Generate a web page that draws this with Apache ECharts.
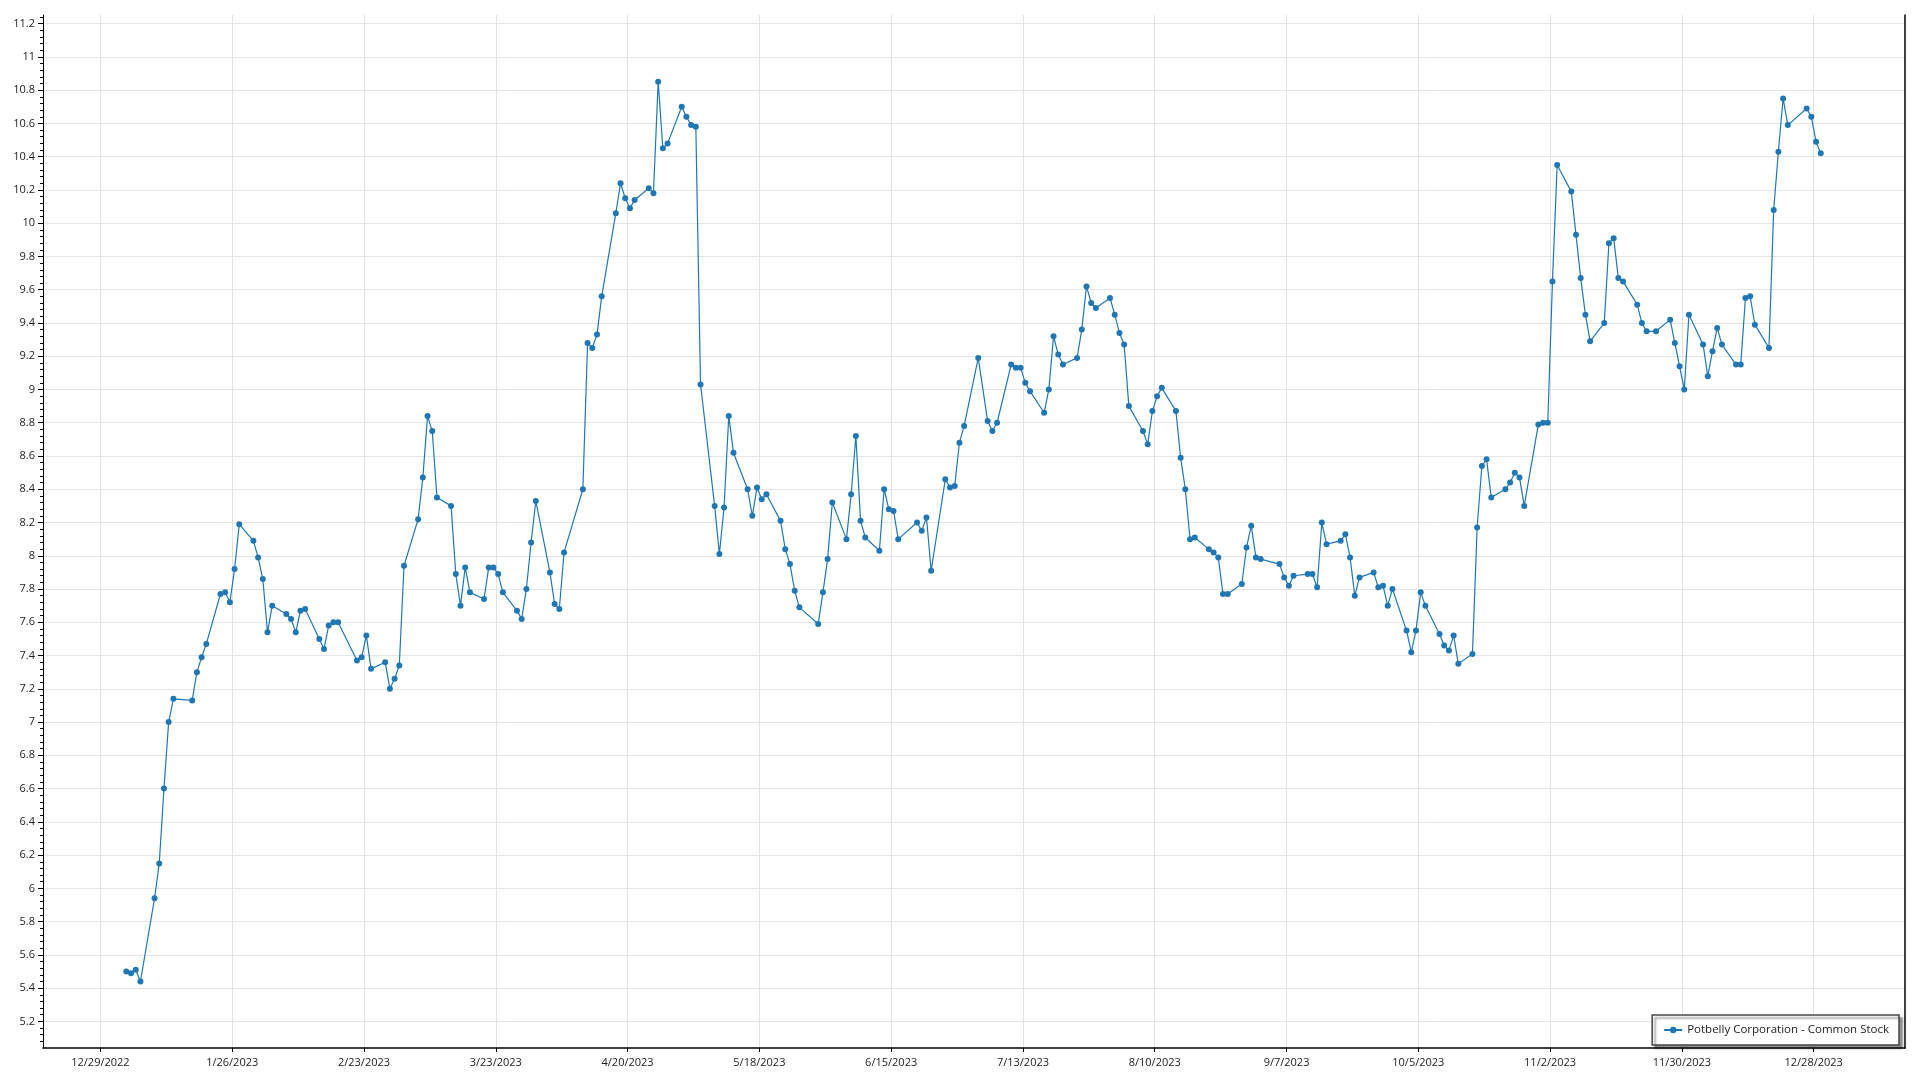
<!DOCTYPE html>
<html>
<head>
<meta charset="utf-8">
<script src="https://cdn.jsdelivr.net/npm/echarts@6/dist/echarts.min.js"></script>
<style>
html,body{margin:0;padding:0;background:#ffffff;}
#chart{width:1920px;height:1080px;}
</style>
</head>
<body>
<div id="chart"></div>
<script>
const seriesName = 'Potbelly Corporation - Common Stock';

const tradeDates = [
'2023-01-03','2023-01-04','2023-01-05','2023-01-06','2023-01-09','2023-01-10','2023-01-11','2023-01-12','2023-01-13',
'2023-01-17','2023-01-18','2023-01-19','2023-01-20','2023-01-23','2023-01-24','2023-01-25','2023-01-26','2023-01-27',
'2023-01-30','2023-01-31','2023-02-01','2023-02-02','2023-02-03','2023-02-06','2023-02-07','2023-02-08','2023-02-09','2023-02-10',
'2023-02-13','2023-02-14','2023-02-15','2023-02-16','2023-02-17','2023-02-21','2023-02-22','2023-02-23','2023-02-24',
'2023-02-27','2023-02-28','2023-03-01','2023-03-02','2023-03-03','2023-03-06','2023-03-07','2023-03-08','2023-03-09','2023-03-10',
'2023-03-13','2023-03-14','2023-03-15','2023-03-16','2023-03-17','2023-03-20','2023-03-21','2023-03-22','2023-03-23','2023-03-24',
'2023-03-27','2023-03-28','2023-03-29','2023-03-30','2023-03-31','2023-04-03','2023-04-04','2023-04-05','2023-04-06',
'2023-04-10','2023-04-11','2023-04-12','2023-04-13','2023-04-14','2023-04-17','2023-04-18','2023-04-19','2023-04-20','2023-04-21',
'2023-04-24','2023-04-25','2023-04-26','2023-04-27','2023-04-28','2023-05-01','2023-05-02','2023-05-03','2023-05-04','2023-05-05',
'2023-05-08','2023-05-09','2023-05-10','2023-05-11','2023-05-12','2023-05-15','2023-05-16','2023-05-17','2023-05-18','2023-05-19',
'2023-05-22','2023-05-23','2023-05-24','2023-05-25','2023-05-26','2023-05-30','2023-05-31','2023-06-01','2023-06-02',
'2023-06-05','2023-06-06','2023-06-07','2023-06-08','2023-06-09','2023-06-12','2023-06-13','2023-06-14','2023-06-15','2023-06-16',
'2023-06-20','2023-06-21','2023-06-22','2023-06-23','2023-06-26','2023-06-27','2023-06-28','2023-06-29','2023-06-30',
'2023-07-03','2023-07-05','2023-07-06','2023-07-07','2023-07-10','2023-07-11','2023-07-12','2023-07-13','2023-07-14',
'2023-07-17','2023-07-18','2023-07-19','2023-07-20','2023-07-21','2023-07-24','2023-07-25','2023-07-26','2023-07-27','2023-07-28',
'2023-07-31','2023-08-01','2023-08-02','2023-08-03','2023-08-04','2023-08-07','2023-08-08','2023-08-09','2023-08-10','2023-08-11',
'2023-08-14','2023-08-15','2023-08-16','2023-08-17','2023-08-18','2023-08-21','2023-08-22','2023-08-23','2023-08-24','2023-08-25',
'2023-08-28','2023-08-29','2023-08-30','2023-08-31','2023-09-01','2023-09-05','2023-09-06','2023-09-07','2023-09-08',
'2023-09-11','2023-09-12','2023-09-13','2023-09-14','2023-09-15','2023-09-18','2023-09-19','2023-09-20','2023-09-21','2023-09-22',
'2023-09-25','2023-09-26','2023-09-27','2023-09-28','2023-09-29','2023-10-02','2023-10-03','2023-10-04','2023-10-05','2023-10-06',
'2023-10-09','2023-10-10','2023-10-11','2023-10-12','2023-10-13','2023-10-16','2023-10-17','2023-10-18','2023-10-19','2023-10-20',
'2023-10-23','2023-10-24','2023-10-25','2023-10-26','2023-10-27','2023-10-30','2023-10-31','2023-11-01','2023-11-02','2023-11-03',
'2023-11-06','2023-11-07','2023-11-08','2023-11-09','2023-11-10','2023-11-13','2023-11-14','2023-11-15','2023-11-16','2023-11-17',
'2023-11-20','2023-11-21','2023-11-22','2023-11-24','2023-11-27','2023-11-28','2023-11-29','2023-11-30','2023-12-01',
'2023-12-04','2023-12-05','2023-12-06','2023-12-07','2023-12-08','2023-12-11','2023-12-12','2023-12-13','2023-12-14','2023-12-15',
'2023-12-18','2023-12-19','2023-12-20','2023-12-21','2023-12-22','2023-12-26','2023-12-27','2023-12-28','2023-12-29'
];

const closePrices = [
5.50,5.49,5.51,5.44,5.94,6.15,6.60,7.00,7.14,
7.13,7.30,7.39,7.47,7.77,7.78,7.72,7.92,8.19,
8.09,7.99,7.86,7.54,7.70,7.65,7.62,7.54,7.67,7.68,
7.50,7.44,7.58,7.60,7.60,7.37,7.39,7.52,7.32,
7.36,7.20,7.26,7.34,7.94,8.22,8.47,8.84,8.75,8.35,
8.30,7.89,7.70,7.93,7.78,7.74,7.93,7.93,7.89,7.78,
7.67,7.62,7.80,8.08,8.33,7.90,7.71,7.68,8.02,
8.40,9.28,9.25,9.33,9.56,10.06,10.24,10.15,10.09,10.14,
10.21,10.18,10.85,10.45,10.48,10.70,10.64,10.59,10.58,9.03,
8.30,8.01,8.29,8.84,8.62,8.40,8.24,8.41,8.34,8.37,
8.21,8.04,7.95,7.79,7.69,7.59,7.78,7.98,8.32,
8.10,8.37,8.72,8.21,8.11,8.03,8.40,8.28,8.27,8.10,
8.20,8.15,8.23,7.91,8.46,8.41,8.42,8.68,8.78,
9.19,8.81,8.75,8.80,9.15,9.13,9.13,9.04,8.99,
8.86,9.00,9.32,9.21,9.15,9.19,9.36,9.62,9.52,9.49,
9.55,9.45,9.34,9.27,8.90,8.75,8.67,8.87,8.96,9.01,
8.87,8.59,8.40,8.10,8.11,8.04,8.02,7.99,7.77,7.77,
7.83,8.05,8.18,7.99,7.98,7.95,7.87,7.82,7.88,
7.89,7.89,7.81,8.20,8.07,8.09,8.13,7.99,7.76,7.87,
7.90,7.81,7.82,7.70,7.80,7.55,7.42,7.55,7.78,7.70,
7.53,7.46,7.43,7.52,7.35,7.41,8.17,8.54,8.58,8.35,
8.40,8.44,8.50,8.47,8.30,8.79,8.80,8.80,9.65,10.35,
10.19,9.93,9.67,9.45,9.29,9.40,9.88,9.91,9.67,9.65,
9.51,9.40,9.35,9.35,9.42,9.28,9.14,9.00,9.45,
9.27,9.08,9.23,9.37,9.27,9.15,9.15,9.55,9.56,9.39,
9.25,10.08,10.43,10.75,10.59,10.69,10.64,10.49,10.42
];

const xTickDates = ['2022-12-29','2023-01-26','2023-02-23','2023-03-23','2023-04-20','2023-05-18','2023-06-15',
'2023-07-13','2023-08-10','2023-09-07','2023-10-05','2023-11-02','2023-11-30','2023-12-28'];

const yTickValues = [5.2,5.4,5.6,5.8,6.0,6.2,6.4,6.6,6.8,7.0,7.2,7.4,7.6,7.8,8.0,8.2,8.4,8.6,8.8,9.0,
9.2,9.4,9.6,9.8,10.0,10.2,10.4,10.6,10.8,11.0,11.2];

const DAY = 86400000;
function toMs(s){ const p = s.split('-').map(Number); return Date.UTC(p[0], p[1]-1, p[2]); }
function fmtDate(ms){ const d = new Date(ms); return (d.getUTCMonth()+1) + '/' + d.getUTCDate() + '/' + d.getUTCFullYear(); }
function fmtNum(v){ const r = Math.round(v*10)/10; return (Math.abs(r - Math.round(r)) < 1e-9) ? String(Math.round(r)) : r.toFixed(1); }

const origin = toMs(xTickDates[0]);
const xMin = origin - 12.2*DAY;
const xMax = origin + 383.4*DAY;
const yMin = 5.04, yMax = 11.252;

const seriesData = tradeDates.map((d,i) => [toMs(d) + DAY/2, closePrices[i]]);
const xTicks = xTickDates.map(toMs);
const yMinor = [];
for (let i = 0; i < yTickValues.length; i++) {
  for (let k = -4; k <= 4; k++) {
    const v = Math.round((yTickValues[i] + k*0.04)*1000)/1000;
    if (v > yMin && v < yMax && yMinor.indexOf(v) < 0 && yTickValues.indexOf(v) < 0) yMinor.push(v);
  }
}

const FONT = '"Open Sans", "Noto Sans", sans-serif';
const chart = echarts.init(document.getElementById('chart'), null, {renderer:'canvas'});
chart.setOption({
  animation: false,
  backgroundColor: '#ffffff',
  grid: { left: 43, right: 15, top: 15, bottom: 32, containLabel: false },
  xAxis: {
    type: 'value', min: xMin, max: xMax,
    axisLine: { show: true, onZero: false, lineStyle: { color: '#000', width: 1.5 } },
    axisTick: { show: true, customValues: xTicks, length: 4, lineStyle: { color: '#000' } },
    axisLabel: { customValues: xTicks, formatter: fmtDate, color: '#222', fontSize: 11, fontFamily: FONT, margin: 9 },
    splitLine: { show: true, lineStyle: { color: '#e2e2e2', width: 1 } }
  },
  yAxis: [{
    type: 'value', min: yMin, max: yMax, position: 'left',
    axisLine: { show: true, onZero: false, lineStyle: { color: '#000', width: 1 } },
    axisTick: { show: true, customValues: yTickValues, length: 5, lineStyle: { color: '#000' } },
    axisLabel: { customValues: yTickValues, formatter: fmtNum, color: '#222', fontSize: 11, fontFamily: FONT, margin: 8 },
    splitLine: { show: true, lineStyle: { color: '#e6e6e6', width: 1 } }
  }, {
    type: 'value', min: yMin, max: yMax, position: 'left',
    axisLine: { show: false },
    axisTick: { show: true, customValues: yMinor, length: 3, lineStyle: { color: '#000' } },
    axisLabel: { show: false },
    splitLine: { show: false }
  }, {
    type: 'value', min: yMin, max: yMax, position: 'right',
    axisLine: { show: true, onZero: false, lineStyle: { color: '#000', width: 1.5 } },
    axisTick: { show: false }, axisLabel: { show: false }, splitLine: { show: false }
  }],
  legend: {
    right: 21, bottom: 35,
    orient: 'horizontal',
    backgroundColor: '#ffffff',
    borderColor: '#444', borderWidth: 1.5, borderRadius: 0,
    padding: [9, 10, 9, 11],
    shadowColor: 'rgba(0,0,0,0.4)', shadowOffsetX: 3, shadowOffsetY: 3, shadowBlur: 2,
    itemWidth: 18, itemHeight: 8, itemGap: 6,
    textStyle: { color: '#222', fontSize: 11.5, fontFamily: FONT },
    data: [seriesName]
  },
  series: [{
    name: seriesName, type: 'line', xAxisIndex: 0, yAxisIndex: 0,
    data: seriesData,
    symbol: 'circle', symbolSize: 6, showSymbol: true,
    itemStyle: { color: '#2077b4' },
    lineStyle: { color: '#2077b4', width: 1.2 }
  }]
});
</script>
</body>
</html>
